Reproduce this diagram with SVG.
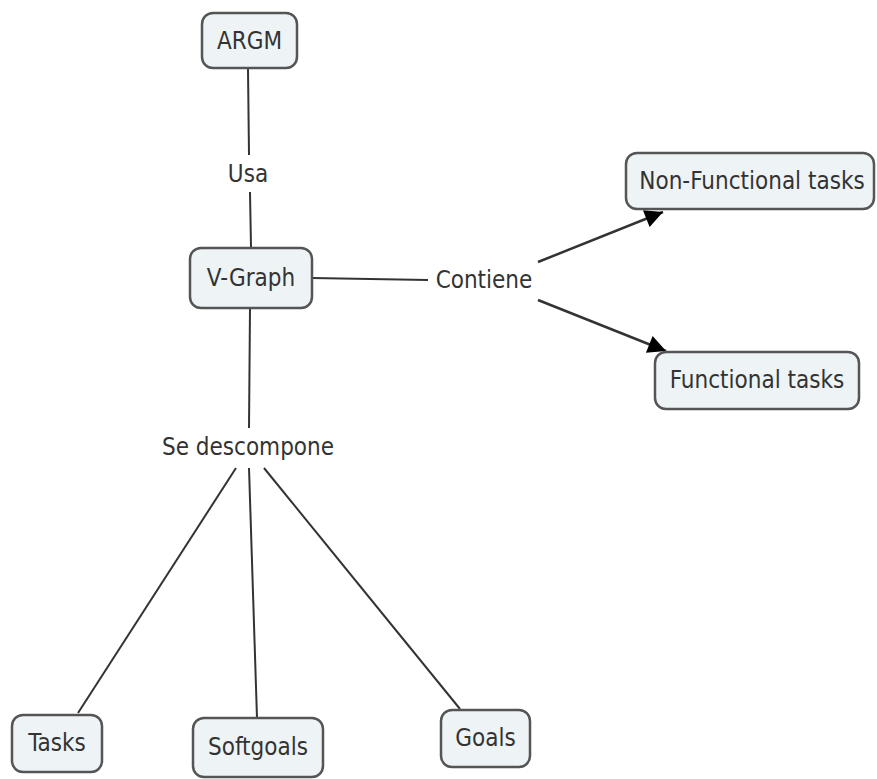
<svg xmlns="http://www.w3.org/2000/svg" width="877" height="779" viewBox="0 0 877 779">
<defs>
<marker id="arr" viewBox="0 0 10 10" refX="10" refY="5" markerWidth="22" markerHeight="18" markerUnits="userSpaceOnUse" orient="auto">
<path d="M0,0 L10,5 L0,10 z" fill="#000"/>
</marker>
<style>
.node rect{fill:#eef3f6;stroke:#555;stroke-width:2.5}
text{font-family:'DejaVu Sans Condensed','DejaVu Sans',sans-serif;font-stretch:condensed;font-size:24px;fill:#333;text-anchor:middle;dominant-baseline:central}
.c line{stroke:#333;stroke-width:2}
</style>
</defs>
<rect width="877" height="779" fill="#fff"/>
<g id="connectors" class="c">
<line x1="248" y1="69" x2="249" y2="155"/>
<line x1="250" y1="192" x2="251" y2="247"/>
<line x1="312" y1="278" x2="428" y2="280"/>
<line x1="538" y1="262" x2="663" y2="212" marker-end="url(#arr)" style="stroke-width:2.5"/>
<line x1="538" y1="300" x2="666" y2="351" marker-end="url(#arr)" style="stroke-width:2.5"/>
<line x1="250" y1="308" x2="249" y2="428"/>
<line x1="236" y1="468" x2="78" y2="713"/>
<line x1="249" y1="468" x2="257" y2="718"/>
<line x1="264" y1="468" x2="460" y2="709"/>
</g>
<g id="lbl-usa"><text x="248" y="174">Usa</text></g>
<g id="lbl-contiene"><text x="484" y="280">Contiene</text></g>
<g id="lbl-descompone"><text x="248" y="447">Se descompone</text></g>
<g id="argm" class="node"><rect x="202" y="13" width="95" height="55" rx="11"/><text x="249.5" y="41">ARGM</text></g>
<g id="vgraph" class="node"><rect x="190" y="248" width="122" height="60" rx="11"/><text x="251" y="278">V-Graph</text></g>
<g id="nonfunctional" class="node"><rect x="626" y="153" width="248" height="56" rx="11"/><text x="752" y="181">Non-Functional tasks</text></g>
<g id="functional" class="node"><rect x="655" y="352" width="204" height="57" rx="11"/><text x="757" y="380">Functional tasks</text></g>
<g id="tasks" class="node"><rect x="12" y="715" width="90" height="57" rx="11"/><text x="57" y="743">Tasks</text></g>
<g id="softgoals" class="node"><rect x="193" y="718" width="130" height="59" rx="11"/><text x="258" y="747">Softgoals</text></g>
<g id="goals" class="node"><rect x="441" y="710" width="89" height="57" rx="11"/><text x="485.5" y="738">Goals</text></g>
</svg>
